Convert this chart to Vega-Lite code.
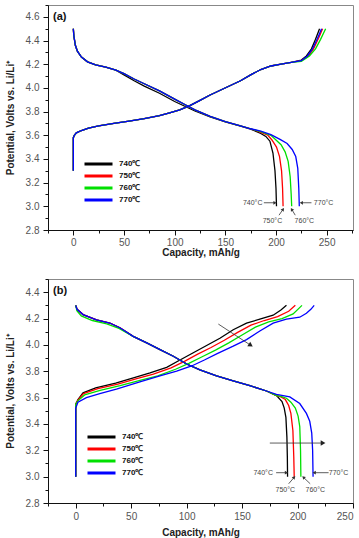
{
  "$schema": "https://vega.github.io/schema/vega-lite/v6.json",
  "background": "white",
  "padding": {"left": 4, "top": 4, "right": 0, "bottom": 0},
  "spacing": 20,
  "config": {
    "font": "Liberation Sans",
    "view": {"stroke": "#888", "strokeWidth": 1},
    "axis": {"grid": false, "domainColor": "#111", "tickColor": "#111", "labelColor": "#555", "labelFontSize": 10, "titleFontSize": 10, "titleFontWeight": "bold", "titleColor": "#222", "labelFont": "Liberation Sans", "titleFont": "Liberation Sans", "labelOverlap": false, "labelFlush": false},
    "legend": {"orient": "none", "title": null, "symbolType": "stroke", "symbolSize": 784, "symbolStrokeWidth": 3, "clipHeight": 12, "rowPadding": 0, "padding": 0, "labelOffset": 5, "labelFontSize": 8, "labelFontWeight": "bold", "labelColor": "#111", "labelFont": "Liberation Sans"}
  },
  "resolve": {"scale": {"color": "independent"}, "legend": {"color": "independent"}},
  "datasets": {
    "curves_a": [
      {"s":"740℃","b":"c","x":0,"y":3.3},{"s":"740℃","b":"c","x":0,"y":3.58},{"s":"740℃","b":"c","x":1,"y":3.6},{"s":"740℃","b":"c","x":3,"y":3.62},{"s":"740℃","b":"c","x":8,"y":3.64},{"s":"740℃","b":"c","x":15,"y":3.66},{"s":"740℃","b":"c","x":25,"y":3.68},{"s":"740℃","b":"c","x":40,"y":3.7},{"s":"740℃","b":"c","x":55,"y":3.72},{"s":"740℃","b":"c","x":70,"y":3.74},{"s":"740℃","b":"c","x":85,"y":3.765},{"s":"740℃","b":"c","x":95,"y":3.79},{"s":"740℃","b":"c","x":105,"y":3.815},{"s":"740℃","b":"c","x":115,"y":3.85},{"s":"740℃","b":"c","x":125,"y":3.895},{"s":"740℃","b":"c","x":135,"y":3.94},{"s":"740℃","b":"c","x":145,"y":3.98},{"s":"740℃","b":"c","x":155,"y":4.02},{"s":"740℃","b":"c","x":165,"y":4.06},{"s":"740℃","b":"c","x":175,"y":4.11},{"s":"740℃","b":"c","x":185,"y":4.155},{"s":"740℃","b":"c","x":195,"y":4.185},{"s":"740℃","b":"c","x":205,"y":4.2},{"s":"740℃","b":"c","x":215,"y":4.215},{"s":"740℃","b":"c","x":225,"y":4.235},{"s":"740℃","b":"c","x":230,"y":4.27},{"s":"740℃","b":"c","x":235,"y":4.33},{"s":"740℃","b":"c","x":239,"y":4.41},{"s":"740℃","b":"c","x":243,"y":4.5},
      {"s":"740℃","b":"d","x":0,"y":4.5},{"s":"740℃","b":"d","x":0.5,"y":4.44},{"s":"740℃","b":"d","x":2,"y":4.36},{"s":"740℃","b":"d","x":4,"y":4.31},{"s":"740℃","b":"d","x":8,"y":4.26},{"s":"740℃","b":"d","x":14,"y":4.22},{"s":"740℃","b":"d","x":22,"y":4.195},{"s":"740℃","b":"d","x":32,"y":4.175},{"s":"740℃","b":"d","x":42,"y":4.15},{"s":"740℃","b":"d","x":50,"y":4.11},{"s":"740℃","b":"d","x":60,"y":4.06},{"s":"740℃","b":"d","x":70,"y":4.015},{"s":"740℃","b":"d","x":85,"y":3.955},{"s":"740℃","b":"d","x":100,"y":3.885},{"s":"740℃","b":"d","x":110,"y":3.845},{"s":"740℃","b":"d","x":120,"y":3.805},{"s":"740℃","b":"d","x":135,"y":3.755},{"s":"740℃","b":"d","x":150,"y":3.712},{"s":"740℃","b":"d","x":165,"y":3.678},{"s":"740℃","b":"d","x":175,"y":3.652},{"s":"740℃","b":"d","x":185,"y":3.615},{"s":"740℃","b":"d","x":190,"y":3.59},{"s":"740℃","b":"d","x":194,"y":3.55},{"s":"740℃","b":"d","x":197,"y":3.45},{"s":"740℃","b":"d","x":199,"y":3.3},{"s":"740℃","b":"d","x":200,"y":3.15},{"s":"740℃","b":"d","x":200.5,"y":3.0},
      {"s":"750℃","b":"c","x":0,"y":3.3},{"s":"750℃","b":"c","x":0,"y":3.58},{"s":"750℃","b":"c","x":1,"y":3.6},{"s":"750℃","b":"c","x":3,"y":3.62},{"s":"750℃","b":"c","x":8,"y":3.64},{"s":"750℃","b":"c","x":15,"y":3.66},{"s":"750℃","b":"c","x":25,"y":3.68},{"s":"750℃","b":"c","x":40,"y":3.7},{"s":"750℃","b":"c","x":55,"y":3.72},{"s":"750℃","b":"c","x":70,"y":3.74},{"s":"750℃","b":"c","x":85,"y":3.765},{"s":"750℃","b":"c","x":95,"y":3.79},{"s":"750℃","b":"c","x":105,"y":3.815},{"s":"750℃","b":"c","x":115,"y":3.85},{"s":"750℃","b":"c","x":125,"y":3.895},{"s":"750℃","b":"c","x":135,"y":3.94},{"s":"750℃","b":"c","x":145,"y":3.98},{"s":"750℃","b":"c","x":155,"y":4.02},{"s":"750℃","b":"c","x":165,"y":4.06},{"s":"750℃","b":"c","x":175,"y":4.11},{"s":"750℃","b":"c","x":185,"y":4.155},{"s":"750℃","b":"c","x":195,"y":4.185},{"s":"750℃","b":"c","x":205,"y":4.2},{"s":"750℃","b":"c","x":215,"y":4.215},{"s":"750℃","b":"c","x":225,"y":4.23},{"s":"750℃","b":"c","x":232,"y":4.27},{"s":"750℃","b":"c","x":237,"y":4.33},{"s":"750℃","b":"c","x":242,"y":4.42},{"s":"750℃","b":"c","x":246,"y":4.5},
      {"s":"750℃","b":"d","x":0,"y":4.5},{"s":"750℃","b":"d","x":0.5,"y":4.44},{"s":"750℃","b":"d","x":2,"y":4.36},{"s":"750℃","b":"d","x":4,"y":4.31},{"s":"750℃","b":"d","x":8,"y":4.26},{"s":"750℃","b":"d","x":14,"y":4.22},{"s":"750℃","b":"d","x":22,"y":4.195},{"s":"750℃","b":"d","x":32,"y":4.175},{"s":"750℃","b":"d","x":42,"y":4.15},{"s":"750℃","b":"d","x":50,"y":4.12},{"s":"750℃","b":"d","x":60,"y":4.075},{"s":"750℃","b":"d","x":70,"y":4.035},{"s":"750℃","b":"d","x":85,"y":3.975},{"s":"750℃","b":"d","x":100,"y":3.905},{"s":"750℃","b":"d","x":110,"y":3.86},{"s":"750℃","b":"d","x":120,"y":3.815},{"s":"750℃","b":"d","x":135,"y":3.76},{"s":"750℃","b":"d","x":150,"y":3.715},{"s":"750℃","b":"d","x":165,"y":3.68},{"s":"750℃","b":"d","x":175,"y":3.655},{"s":"750℃","b":"d","x":185,"y":3.625},{"s":"750℃","b":"d","x":192,"y":3.6},{"s":"750℃","b":"d","x":196,"y":3.56},{"s":"750℃","b":"d","x":200.5,"y":3.5},{"s":"750℃","b":"d","x":203.5,"y":3.42},{"s":"750℃","b":"d","x":205.5,"y":3.3},{"s":"750℃","b":"d","x":206.5,"y":3.15},{"s":"750℃","b":"d","x":207,"y":3.0},
      {"s":"760℃","b":"c","x":0,"y":3.3},{"s":"760℃","b":"c","x":0,"y":3.58},{"s":"760℃","b":"c","x":1,"y":3.6},{"s":"760℃","b":"c","x":3,"y":3.62},{"s":"760℃","b":"c","x":8,"y":3.64},{"s":"760℃","b":"c","x":15,"y":3.66},{"s":"760℃","b":"c","x":25,"y":3.68},{"s":"760℃","b":"c","x":40,"y":3.7},{"s":"760℃","b":"c","x":55,"y":3.72},{"s":"760℃","b":"c","x":70,"y":3.74},{"s":"760℃","b":"c","x":85,"y":3.765},{"s":"760℃","b":"c","x":95,"y":3.79},{"s":"760℃","b":"c","x":105,"y":3.815},{"s":"760℃","b":"c","x":115,"y":3.85},{"s":"760℃","b":"c","x":125,"y":3.895},{"s":"760℃","b":"c","x":135,"y":3.94},{"s":"760℃","b":"c","x":145,"y":3.98},{"s":"760℃","b":"c","x":155,"y":4.02},{"s":"760℃","b":"c","x":165,"y":4.06},{"s":"760℃","b":"c","x":175,"y":4.11},{"s":"760℃","b":"c","x":185,"y":4.155},{"s":"760℃","b":"c","x":195,"y":4.185},{"s":"760℃","b":"c","x":205,"y":4.2},{"s":"760℃","b":"c","x":215,"y":4.215},{"s":"760℃","b":"c","x":225,"y":4.225},{"s":"760℃","b":"c","x":233,"y":4.27},{"s":"760℃","b":"c","x":239,"y":4.33},{"s":"760℃","b":"c","x":244,"y":4.41},{"s":"760℃","b":"c","x":249,"y":4.5},
      {"s":"760℃","b":"d","x":0,"y":4.5},{"s":"760℃","b":"d","x":0.5,"y":4.44},{"s":"760℃","b":"d","x":2,"y":4.36},{"s":"760℃","b":"d","x":4,"y":4.31},{"s":"760℃","b":"d","x":8,"y":4.26},{"s":"760℃","b":"d","x":14,"y":4.22},{"s":"760℃","b":"d","x":22,"y":4.195},{"s":"760℃","b":"d","x":32,"y":4.175},{"s":"760℃","b":"d","x":42,"y":4.15},{"s":"760℃","b":"d","x":50,"y":4.12},{"s":"760℃","b":"d","x":60,"y":4.075},{"s":"760℃","b":"d","x":70,"y":4.035},{"s":"760℃","b":"d","x":85,"y":3.975},{"s":"760℃","b":"d","x":100,"y":3.905},{"s":"760℃","b":"d","x":110,"y":3.86},{"s":"760℃","b":"d","x":120,"y":3.815},{"s":"760℃","b":"d","x":135,"y":3.76},{"s":"760℃","b":"d","x":150,"y":3.715},{"s":"760℃","b":"d","x":165,"y":3.68},{"s":"760℃","b":"d","x":175,"y":3.655},{"s":"760℃","b":"d","x":185,"y":3.63},{"s":"760℃","b":"d","x":195,"y":3.6},{"s":"760℃","b":"d","x":200,"y":3.56},{"s":"760℃","b":"d","x":205,"y":3.52},{"s":"760℃","b":"d","x":209,"y":3.46},{"s":"760℃","b":"d","x":212,"y":3.38},{"s":"760℃","b":"d","x":214,"y":3.25},{"s":"760℃","b":"d","x":215,"y":3.1},{"s":"760℃","b":"d","x":215.5,"y":3.0},
      {"s":"770℃","b":"c","x":0,"y":3.3},{"s":"770℃","b":"c","x":0,"y":3.58},{"s":"770℃","b":"c","x":1,"y":3.6},{"s":"770℃","b":"c","x":3,"y":3.62},{"s":"770℃","b":"c","x":8,"y":3.64},{"s":"770℃","b":"c","x":15,"y":3.66},{"s":"770℃","b":"c","x":25,"y":3.68},{"s":"770℃","b":"c","x":40,"y":3.7},{"s":"770℃","b":"c","x":55,"y":3.72},{"s":"770℃","b":"c","x":70,"y":3.74},{"s":"770℃","b":"c","x":85,"y":3.765},{"s":"770℃","b":"c","x":95,"y":3.79},{"s":"770℃","b":"c","x":105,"y":3.815},{"s":"770℃","b":"c","x":115,"y":3.85},{"s":"770℃","b":"c","x":125,"y":3.895},{"s":"770℃","b":"c","x":135,"y":3.94},{"s":"770℃","b":"c","x":145,"y":3.98},{"s":"770℃","b":"c","x":155,"y":4.02},{"s":"770℃","b":"c","x":165,"y":4.06},{"s":"770℃","b":"c","x":175,"y":4.11},{"s":"770℃","b":"c","x":185,"y":4.155},{"s":"770℃","b":"c","x":195,"y":4.185},{"s":"770℃","b":"c","x":205,"y":4.2},{"s":"770℃","b":"c","x":215,"y":4.215},{"s":"770℃","b":"c","x":225,"y":4.23},{"s":"770℃","b":"c","x":231,"y":4.27},{"s":"770℃","b":"c","x":236,"y":4.33},{"s":"770℃","b":"c","x":241,"y":4.42},{"s":"770℃","b":"c","x":245,"y":4.5},
      {"s":"770℃","b":"d","x":0,"y":4.5},{"s":"770℃","b":"d","x":0.5,"y":4.44},{"s":"770℃","b":"d","x":2,"y":4.36},{"s":"770℃","b":"d","x":4,"y":4.31},{"s":"770℃","b":"d","x":8,"y":4.26},{"s":"770℃","b":"d","x":14,"y":4.22},{"s":"770℃","b":"d","x":22,"y":4.195},{"s":"770℃","b":"d","x":32,"y":4.175},{"s":"770℃","b":"d","x":42,"y":4.15},{"s":"770℃","b":"d","x":50,"y":4.12},{"s":"770℃","b":"d","x":60,"y":4.075},{"s":"770℃","b":"d","x":70,"y":4.035},{"s":"770℃","b":"d","x":85,"y":3.975},{"s":"770℃","b":"d","x":100,"y":3.905},{"s":"770℃","b":"d","x":110,"y":3.86},{"s":"770℃","b":"d","x":120,"y":3.815},{"s":"770℃","b":"d","x":135,"y":3.76},{"s":"770℃","b":"d","x":150,"y":3.715},{"s":"770℃","b":"d","x":165,"y":3.68},{"s":"770℃","b":"d","x":175,"y":3.655},{"s":"770℃","b":"d","x":185,"y":3.635},{"s":"770℃","b":"d","x":195,"y":3.605},{"s":"770℃","b":"d","x":204,"y":3.565},{"s":"770℃","b":"d","x":211,"y":3.53},{"s":"770℃","b":"d","x":216,"y":3.48},{"s":"770℃","b":"d","x":219.5,"y":3.42},{"s":"770℃","b":"d","x":221.5,"y":3.32},{"s":"770℃","b":"d","x":222.5,"y":3.15},{"s":"770℃","b":"d","x":223,"y":3.0}
    ],
    "curves_b": [
      {"s":"740℃","b":"c","x":0,"y":3.0},{"s":"740℃","b":"c","x":0,"y":3.55},{"s":"740℃","b":"c","x":2,"y":3.585},{"s":"740℃","b":"c","x":6.6,"y":3.636},{"s":"740℃","b":"c","x":18,"y":3.674},{"s":"740℃","b":"c","x":36,"y":3.71},{"s":"740℃","b":"c","x":52,"y":3.75},{"s":"740℃","b":"c","x":67,"y":3.787},{"s":"740℃","b":"c","x":82,"y":3.83},{"s":"740℃","b":"c","x":94,"y":3.885},{"s":"740℃","b":"c","x":106,"y":3.94},{"s":"740℃","b":"c","x":118,"y":3.995},{"s":"740℃","b":"c","x":130,"y":4.05},{"s":"740℃","b":"c","x":142,"y":4.115},{"s":"740℃","b":"c","x":154,"y":4.165},{"s":"740℃","b":"c","x":166,"y":4.195},{"s":"740℃","b":"c","x":178,"y":4.225},{"s":"740℃","b":"c","x":185,"y":4.265},{"s":"740℃","b":"c","x":190,"y":4.3},
      {"s":"740℃","b":"d","x":0,"y":4.3},{"s":"740℃","b":"d","x":1.2,"y":4.27},{"s":"740℃","b":"d","x":6.6,"y":4.23},{"s":"740℃","b":"d","x":18.7,"y":4.19},{"s":"740℃","b":"d","x":30.7,"y":4.166},{"s":"740℃","b":"d","x":39.8,"y":4.13},{"s":"740℃","b":"d","x":51.8,"y":4.065},{"s":"740℃","b":"d","x":64,"y":4.015},{"s":"740℃","b":"d","x":76,"y":3.964},{"s":"740℃","b":"d","x":88,"y":3.914},{"s":"740℃","b":"d","x":100,"y":3.855},{"s":"740℃","b":"d","x":112,"y":3.81},{"s":"740℃","b":"d","x":127,"y":3.765},{"s":"740℃","b":"d","x":142,"y":3.727},{"s":"740℃","b":"d","x":157,"y":3.69},{"s":"740℃","b":"d","x":172,"y":3.65},{"s":"740℃","b":"d","x":181,"y":3.615},{"s":"740℃","b":"d","x":186,"y":3.57},{"s":"740℃","b":"d","x":188,"y":3.52},{"s":"740℃","b":"d","x":189.5,"y":3.45},{"s":"740℃","b":"d","x":190.4,"y":3.3},{"s":"740℃","b":"d","x":190.8,"y":3.15},{"s":"740℃","b":"d","x":191,"y":3.0},
      {"s":"750℃","b":"c","x":0,"y":3.0},{"s":"750℃","b":"c","x":0,"y":3.55},{"s":"750℃","b":"c","x":2,"y":3.58},{"s":"750℃","b":"c","x":7,"y":3.63},{"s":"750℃","b":"c","x":20,"y":3.668},{"s":"750℃","b":"c","x":38,"y":3.703},{"s":"750℃","b":"c","x":55,"y":3.743},{"s":"750℃","b":"c","x":70,"y":3.778},{"s":"750℃","b":"c","x":86,"y":3.825},{"s":"750℃","b":"c","x":98,"y":3.875},{"s":"750℃","b":"c","x":110,"y":3.93},{"s":"750℃","b":"c","x":122,"y":3.98},{"s":"750℃","b":"c","x":134,"y":4.035},{"s":"750℃","b":"c","x":146,"y":4.095},{"s":"750℃","b":"c","x":158,"y":4.15},{"s":"750℃","b":"c","x":170,"y":4.185},{"s":"750℃","b":"c","x":182,"y":4.215},{"s":"750℃","b":"c","x":192,"y":4.255},{"s":"750℃","b":"c","x":198,"y":4.3},
      {"s":"750℃","b":"d","x":0,"y":4.3},{"s":"750℃","b":"d","x":1.2,"y":4.27},{"s":"750℃","b":"d","x":6.6,"y":4.23},{"s":"750℃","b":"d","x":18.7,"y":4.19},{"s":"750℃","b":"d","x":30.7,"y":4.166},{"s":"750℃","b":"d","x":39.8,"y":4.13},{"s":"750℃","b":"d","x":51.8,"y":4.065},{"s":"750℃","b":"d","x":64,"y":4.015},{"s":"750℃","b":"d","x":76,"y":3.964},{"s":"750℃","b":"d","x":88,"y":3.914},{"s":"750℃","b":"d","x":100,"y":3.855},{"s":"750℃","b":"d","x":112,"y":3.81},{"s":"750℃","b":"d","x":127,"y":3.765},{"s":"750℃","b":"d","x":142,"y":3.727},{"s":"750℃","b":"d","x":157,"y":3.69},{"s":"750℃","b":"d","x":172,"y":3.65},{"s":"750℃","b":"d","x":181,"y":3.615},{"s":"750℃","b":"d","x":185,"y":3.605},{"s":"750℃","b":"d","x":189,"y":3.585},{"s":"750℃","b":"d","x":192,"y":3.54},{"s":"750℃","b":"d","x":194,"y":3.48},{"s":"750℃","b":"d","x":195.8,"y":3.35},{"s":"750℃","b":"d","x":196.6,"y":3.15},{"s":"750℃","b":"d","x":197,"y":3.0},
      {"s":"760℃","b":"c","x":0,"y":3.0},{"s":"760℃","b":"c","x":0,"y":3.55},{"s":"760℃","b":"c","x":2,"y":3.575},{"s":"760℃","b":"c","x":8,"y":3.62},{"s":"760℃","b":"c","x":22,"y":3.655},{"s":"760℃","b":"c","x":40,"y":3.69},{"s":"760℃","b":"c","x":58,"y":3.73},{"s":"760℃","b":"c","x":74,"y":3.765},{"s":"760℃","b":"c","x":90,"y":3.815},{"s":"760℃","b":"c","x":102,"y":3.86},{"s":"760℃","b":"c","x":114,"y":3.91},{"s":"760℃","b":"c","x":126,"y":3.96},{"s":"760℃","b":"c","x":138,"y":4.015},{"s":"760℃","b":"c","x":150,"y":4.075},{"s":"760℃","b":"c","x":162,"y":4.135},{"s":"760℃","b":"c","x":174,"y":4.175},{"s":"760℃","b":"c","x":186,"y":4.2},{"s":"760℃","b":"c","x":196,"y":4.235},{"s":"760℃","b":"c","x":204,"y":4.3},
      {"s":"760℃","b":"d","x":0,"y":4.3},{"s":"760℃","b":"d","x":1,"y":4.26},{"s":"760℃","b":"d","x":5,"y":4.22},{"s":"760℃","b":"d","x":15,"y":4.185},{"s":"760℃","b":"d","x":28,"y":4.16},{"s":"760℃","b":"d","x":39,"y":4.125},{"s":"760℃","b":"d","x":51.8,"y":4.065},{"s":"760℃","b":"d","x":64,"y":4.015},{"s":"760℃","b":"d","x":76,"y":3.964},{"s":"760℃","b":"d","x":88,"y":3.914},{"s":"760℃","b":"d","x":100,"y":3.855},{"s":"760℃","b":"d","x":112,"y":3.81},{"s":"760℃","b":"d","x":127,"y":3.765},{"s":"760℃","b":"d","x":142,"y":3.727},{"s":"760℃","b":"d","x":157,"y":3.69},{"s":"760℃","b":"d","x":172,"y":3.65},{"s":"760℃","b":"d","x":181,"y":3.615},{"s":"760℃","b":"d","x":185,"y":3.61},{"s":"760℃","b":"d","x":190,"y":3.595},{"s":"760℃","b":"d","x":194,"y":3.565},{"s":"760℃","b":"d","x":198,"y":3.52},{"s":"760℃","b":"d","x":200.5,"y":3.46},{"s":"760℃","b":"d","x":202,"y":3.38},{"s":"760℃","b":"d","x":202.7,"y":3.2},{"s":"760℃","b":"d","x":203,"y":3.0},
      {"s":"770℃","b":"c","x":0,"y":3.0},{"s":"770℃","b":"c","x":0,"y":3.52},{"s":"770℃","b":"c","x":2,"y":3.565},{"s":"770℃","b":"c","x":9.6,"y":3.6},{"s":"770℃","b":"c","x":21.7,"y":3.63},{"s":"770℃","b":"c","x":36.7,"y":3.665},{"s":"770℃","b":"c","x":57.8,"y":3.72},{"s":"770℃","b":"c","x":75.9,"y":3.765},{"s":"770℃","b":"c","x":91,"y":3.8},{"s":"770℃","b":"c","x":104.5,"y":3.84},{"s":"770℃","b":"c","x":116,"y":3.885},{"s":"770℃","b":"c","x":128,"y":3.935},{"s":"770℃","b":"c","x":142,"y":3.99},{"s":"770℃","b":"c","x":154,"y":4.04},{"s":"770℃","b":"c","x":166,"y":4.105},{"s":"770℃","b":"c","x":178,"y":4.165},{"s":"770℃","b":"c","x":190,"y":4.195},{"s":"770℃","b":"c","x":202,"y":4.21},{"s":"770℃","b":"c","x":208,"y":4.24},{"s":"770℃","b":"c","x":212,"y":4.27},{"s":"770℃","b":"c","x":215,"y":4.3},
      {"s":"770℃","b":"d","x":0,"y":4.3},{"s":"770℃","b":"d","x":1.2,"y":4.27},{"s":"770℃","b":"d","x":6.6,"y":4.23},{"s":"770℃","b":"d","x":18.7,"y":4.19},{"s":"770℃","b":"d","x":30.7,"y":4.166},{"s":"770℃","b":"d","x":39.8,"y":4.13},{"s":"770℃","b":"d","x":51.8,"y":4.065},{"s":"770℃","b":"d","x":64,"y":4.015},{"s":"770℃","b":"d","x":76,"y":3.964},{"s":"770℃","b":"d","x":88,"y":3.914},{"s":"770℃","b":"d","x":100,"y":3.855},{"s":"770℃","b":"d","x":112,"y":3.81},{"s":"770℃","b":"d","x":127,"y":3.765},{"s":"770℃","b":"d","x":142,"y":3.727},{"s":"770℃","b":"d","x":157,"y":3.69},{"s":"770℃","b":"d","x":172,"y":3.65},{"s":"770℃","b":"d","x":181,"y":3.625},{"s":"770℃","b":"d","x":193,"y":3.605},{"s":"770℃","b":"d","x":202,"y":3.555},{"s":"770℃","b":"d","x":208,"y":3.48},{"s":"770℃","b":"d","x":211,"y":3.42},{"s":"770℃","b":"d","x":212.8,"y":3.33},{"s":"770℃","b":"d","x":213.6,"y":3.2},{"s":"770℃","b":"d","x":214,"y":3.0}
    ],
    "labels_a": [
      {"t":"740°C","x":177,"y":3.03},{"t":"770°C","x":247,"y":3.03},{"t":"750°C","x":196.5,"y":2.875},{"t":"760°C","x":228,"y":2.875}
    ],
    "arrows_a": [
      {"d":"r","x":188,"y":3.03,"x2":199,"y2":3.03},
      {"d":"l","x":235,"y":3.03,"x2":225,"y2":3.03},
      {"d":"ur","x":203,"y":2.925,"x2":207,"y2":2.975},
      {"d":"ul","x":219,"y":2.925,"x2":215.5,"y2":2.975}
    ],
    "labels_b": [
      {"t":"740°C","x":169,"y":3.03},{"t":"770°C","x":237,"y":3.03},{"t":"750°C","x":189,"y":2.895},{"t":"760°C","x":216,"y":2.895}
    ],
    "arrows_b": [
      {"d":"r","x":180.7,"y":3.03,"x2":190,"y2":3.03},
      {"d":"l","x":228,"y":3.03,"x2":215,"y2":3.03},
      {"d":"ur","x":192,"y":2.946,"x2":197,"y2":2.995},
      {"d":"ul","x":211.4,"y":2.946,"x2":205.3,"y2":2.995},
      {"d":"R","x":175,"y":3.255,"x2":223,"y2":3.255},
      {"d":"D","x":128.6,"y":4.158,"x2":157.8,"y2":3.997}
    ]
  },
  "vconcat": [
    {
      "width": 305,
      "height": 225,
      "title": {"text": "(a)", "anchor": "start", "frame": "group", "offset": -17, "dx": 5, "fontSize": 11, "fontWeight": "bold", "color": "#111", "font": "Liberation Sans"},
      "resolve": {"axis": {"x": "independent", "y": "independent"}},
      "layer": [
        {
          "data": {"name": "curves_a"},
          "mark": {"type": "line", "strokeWidth": 1.3},
          "encoding": {
            "x": {"field": "x", "type": "quantitative", "scale": {"domain": [-25, 276], "nice": false, "zero": false},
                  "axis": {"orient": "bottom", "title": "Capacity, mAh/g", "values": [0,50,100,150,200,250], "format": "d", "tickSize": 5, "labelPadding": 2, "titlePadding": 0}},
            "y": {"field": "y", "type": "quantitative", "scale": {"domain": [2.8, 4.7], "nice": false, "zero": false},
                  "axis": {"orient": "left", "title": "Potential, Volts vs. Li/Li⁺", "values": [2.8,3.0,3.2,3.4,3.6,3.8,4.0,4.2,4.4,4.6], "format": ".1f", "tickSize": 5, "labelPadding": 4, "titlePadding": 10}},
            "color": {"field": "s", "type": "nominal", "scale": {"domain": ["740℃","750℃","760℃","770℃"], "range": ["#000000","#ff0000","#00e000","#0000ff"]},
                      "legend": {"legendX": 35, "legendY": 153}},
            "detail": {"field": "b"},
            "order": {"value": null}
          }
        },
        {
          "data": {"name": "arrows_a"},
          "mark": {"type": "rule", "color": "#333", "strokeWidth": 0.8},
          "encoding": {
            "x": {"field": "x", "type": "quantitative", "axis": {"orient": "bottom", "title": null, "labels": false, "domain": false, "values": [-25,25,75,125,175,225,275], "tickSize": 3}},
            "y": {"field": "y", "type": "quantitative", "axis": {"orient": "left", "title": null, "labels": false, "domain": false, "values": [2.9,3.1,3.3,3.5,3.7,3.9,4.1,4.3,4.5,4.7], "tickSize": 3}},
            "x2": {"field": "x2"}, "y2": {"field": "y2"}}
        },
        {
          "data": {"name": "arrows_a"},
          "transform": [{"filter": "datum.d == 'r'"}],
          "mark": {"type": "point", "shape": "triangle-right", "filled": true, "color": "#333", "size": 14, "opacity": 1},
          "encoding": {"x": {"field": "x2", "type": "quantitative", "axis": null}, "y": {"field": "y2", "type": "quantitative", "axis": null}}
        },
        {
          "data": {"name": "arrows_a"},
          "transform": [{"filter": "datum.d == 'l'"}],
          "mark": {"type": "point", "shape": "triangle-left", "filled": true, "color": "#333", "size": 14, "opacity": 1},
          "encoding": {"x": {"field": "x2", "type": "quantitative", "axis": null}, "y": {"field": "y2", "type": "quantitative", "axis": null}}
        },
        {
          "data": {"name": "arrows_a"},
          "transform": [{"filter": "datum.d == 'ur'"}],
          "mark": {"type": "point", "shape": "triangle-right", "angle": -55, "filled": true, "color": "#333", "size": 14, "opacity": 1},
          "encoding": {"x": {"field": "x2", "type": "quantitative", "axis": null}, "y": {"field": "y2", "type": "quantitative", "axis": null}}
        },
        {
          "data": {"name": "arrows_a"},
          "transform": [{"filter": "datum.d == 'ul'"}],
          "mark": {"type": "point", "shape": "triangle-right", "angle": -121, "filled": true, "color": "#333", "size": 14, "opacity": 1},
          "encoding": {"x": {"field": "x2", "type": "quantitative", "axis": null}, "y": {"field": "y2", "type": "quantitative", "axis": null}}
        },
        {
          "data": {"name": "labels_a"},
          "mark": {"type": "text", "fontSize": 7, "color": "#444", "font": "Liberation Sans"},
          "encoding": {"x": {"field": "x", "type": "quantitative", "axis": null}, "y": {"field": "y", "type": "quantitative", "axis": null}, "text": {"field": "t"}}
        }
      ]
    },
    {
      "width": 305,
      "height": 224,
      "title": {"text": "(b)", "anchor": "start", "frame": "group", "offset": -17, "dx": 5, "fontSize": 11, "fontWeight": "bold", "color": "#111", "font": "Liberation Sans"},
      "resolve": {"axis": {"x": "independent", "y": "independent"}},
      "layer": [
        {
          "data": {"name": "curves_b"},
          "mark": {"type": "line", "strokeWidth": 1.3},
          "encoding": {
            "x": {"field": "x", "type": "quantitative", "scale": {"domain": [-25, 250], "nice": false, "zero": false},
                  "axis": {"orient": "bottom", "title": "Capacity, mAh/g", "values": [0,50,100,150,200,250], "format": "d", "tickSize": 5, "labelPadding": 3, "titlePadding": 6, "labelFlush": true}},
            "y": {"field": "y", "type": "quantitative", "scale": {"domain": [2.8, 4.5], "nice": false, "zero": false},
                  "axis": {"orient": "left", "title": "Potential, Volts vs. Li/Li⁺", "values": [2.8,3.0,3.2,3.4,3.6,3.8,4.0,4.2,4.4], "format": ".1f", "tickSize": 5, "labelPadding": 4, "titlePadding": 10}},
            "color": {"field": "s", "type": "nominal", "scale": {"domain": ["740℃","750℃","760℃","770℃"], "range": ["#000000","#ff0000","#00e000","#0000ff"]},
                      "legend": {"legendX": 38, "legendY": 152}},
            "detail": {"field": "b"},
            "order": {"value": null}
          }
        },
        {
          "data": {"name": "arrows_b"},
          "mark": {"type": "rule", "color": "#333", "strokeWidth": 0.8},
          "encoding": {
            "x": {"field": "x", "type": "quantitative", "axis": {"orient": "bottom", "title": null, "labels": false, "domain": false, "values": [-25,25,75,125,175,225], "tickSize": 3}},
            "y": {"field": "y", "type": "quantitative", "axis": {"orient": "left", "title": null, "labels": false, "domain": false, "values": [2.9,3.1,3.3,3.5,3.7,3.9,4.1,4.3,4.5], "tickSize": 3}},
            "x2": {"field": "x2"}, "y2": {"field": "y2"}}
        },
        {
          "data": {"name": "arrows_b"},
          "transform": [{"filter": "datum.d == 'r'"}],
          "mark": {"type": "point", "shape": "triangle-right", "filled": true, "color": "#333", "size": 14, "opacity": 1},
          "encoding": {"x": {"field": "x2", "type": "quantitative", "axis": null}, "y": {"field": "y2", "type": "quantitative", "axis": null}}
        },
        {
          "data": {"name": "arrows_b"},
          "transform": [{"filter": "datum.d == 'l'"}],
          "mark": {"type": "point", "shape": "triangle-left", "filled": true, "color": "#333", "size": 14, "opacity": 1},
          "encoding": {"x": {"field": "x2", "type": "quantitative", "axis": null}, "y": {"field": "y2", "type": "quantitative", "axis": null}}
        },
        {
          "data": {"name": "arrows_b"},
          "transform": [{"filter": "datum.d == 'ur'"}],
          "mark": {"type": "point", "shape": "triangle-right", "angle": -49, "filled": true, "color": "#333", "size": 14, "opacity": 1},
          "encoding": {"x": {"field": "x2", "type": "quantitative", "axis": null}, "y": {"field": "y2", "type": "quantitative", "axis": null}}
        },
        {
          "data": {"name": "arrows_b"},
          "transform": [{"filter": "datum.d == 'ul'"}],
          "mark": {"type": "point", "shape": "triangle-right", "angle": -137, "filled": true, "color": "#333", "size": 14, "opacity": 1},
          "encoding": {"x": {"field": "x2", "type": "quantitative", "axis": null}, "y": {"field": "y2", "type": "quantitative", "axis": null}}
        },
        {
          "data": {"name": "arrows_b"},
          "transform": [{"filter": "datum.d == 'R'"}],
          "mark": {"type": "point", "shape": "triangle-right", "filled": true, "color": "#222", "size": 30, "opacity": 1},
          "encoding": {"x": {"field": "x2", "type": "quantitative", "axis": null}, "y": {"field": "y2", "type": "quantitative", "axis": null}}
        },
        {
          "data": {"name": "arrows_b"},
          "transform": [{"filter": "datum.d == 'D'"}],
          "mark": {"type": "point", "shape": "triangle-right", "angle": 33, "filled": true, "color": "#222", "size": 30, "opacity": 1},
          "encoding": {"x": {"field": "x2", "type": "quantitative", "axis": null}, "y": {"field": "y2", "type": "quantitative", "axis": null}}
        },
        {
          "data": {"name": "labels_b"},
          "mark": {"type": "text", "fontSize": 7, "color": "#444", "font": "Liberation Sans"},
          "encoding": {"x": {"field": "x", "type": "quantitative", "axis": null}, "y": {"field": "y", "type": "quantitative", "axis": null}, "text": {"field": "t"}}
        }
      ]
    }
  ]
}
